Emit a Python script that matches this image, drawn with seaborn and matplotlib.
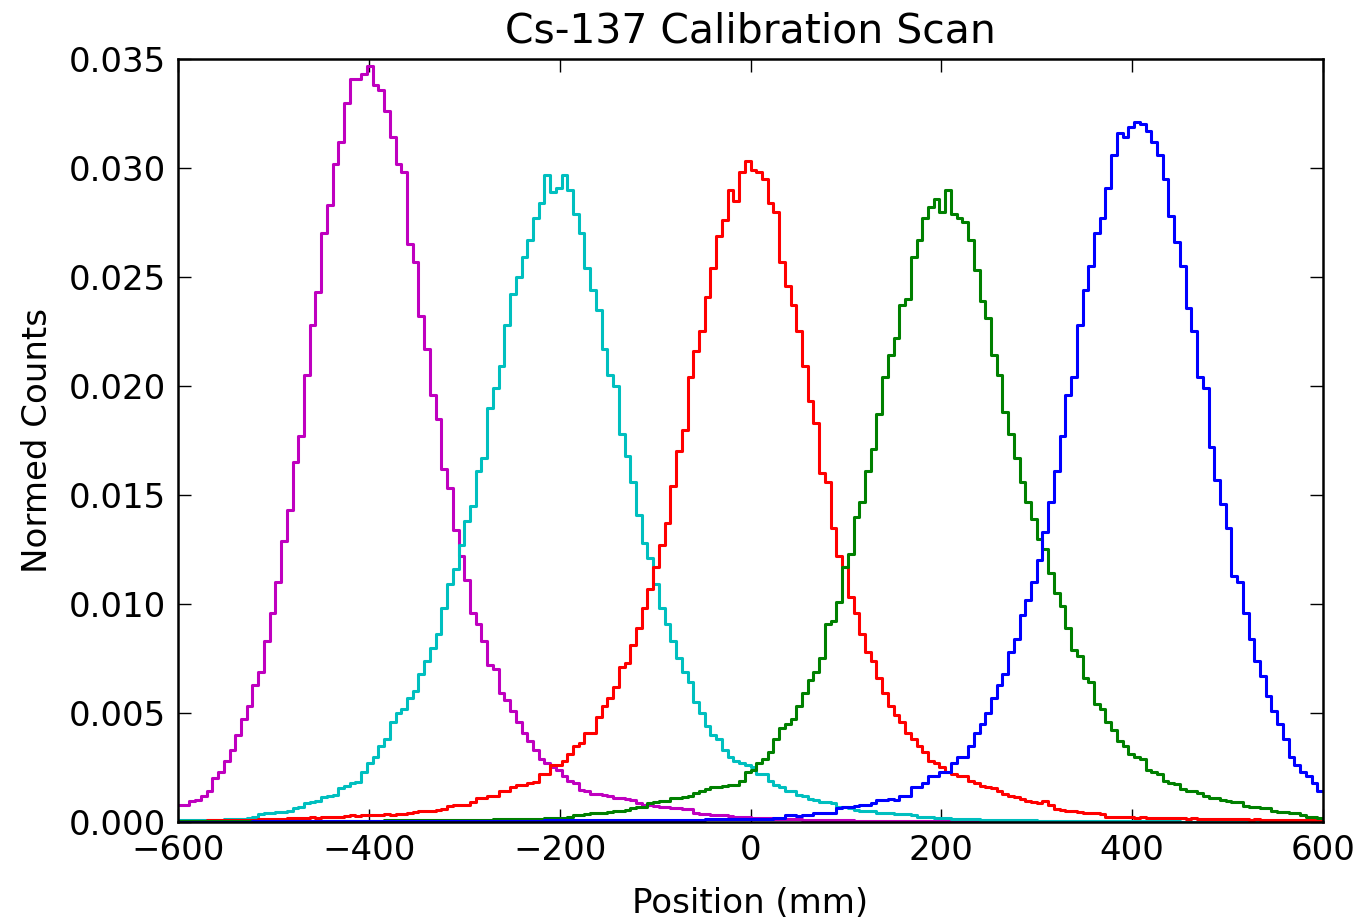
import numpy as np
import pandas as pd
import seaborn as sns
import matplotlib
matplotlib.use("Agg")
import matplotlib.pyplot as plt

# bin centres of the scan histograms (mm), 6 mm bins from -600 to 600
centers = np.arange(-597, 600, 6)

# normed counts per bin, in units of 1e-4
pos_m400 = [7.6, 7.8, 9.5, 10.0, 12.0, 14.0, 20.0, 23.0, 28.0, 33.0,
            40, 47, 53, 63, 69, 83, 96, 110, 129, 143,
            165, 177, 205, 228, 243, 270, 283, 302, 312, 330,
            341, 341, 343, 347, 338, 336, 326, 314, 302, 298,
            265, 257, 232, 217, 196, 185, 162, 153, 134, 122,
            111, 96, 91, 83, 72, 70, 59, 56, 51, 46,
            41, 37, 33, 29, 27, 25, 24, 21, 19, 18,
            14.5, 14, 13, 13, 12.5, 12, 11, 11, 10.5, 10,
            8.5, 8, 8, 7.5, 7, 7, 6.5, 6.5, 6, 6,
            4, 3.5, 3.5, 3, 3, 3, 2.8, 2.5, 2.5, 2.2,
            2, 2, 1.8, 1.8, 1.5, 1.5, 1.5, 1.2, 1.2, 1.0,
            1.0, 0.9, 0.9, 0.8, 0.8, 0.7, 0.7, 0.7, 0.6, 0.6,
            0.6, 0.5, 0.5, 0.5, 0.5, 0.4, 0.4, 0.4, 0.4, 0.4,
            0.4, 0.3, 0.3, 0.3, 0.3, 0.3, 0.3, 0.3, 0.3, 0.3,
            0.3, 0.3, 0.2, 0.2, 0.2, 0.2, 0.2, 0.2, 0.2, 0.2,
            0.2, 0.2, 0.2, 0.2, 0.2, 0.2, 0.2, 0.2, 0.2, 0.2,
            0.1, 0.1, 0.1, 0.1, 0.1, 0.1, 0.1, 0.1, 0.1, 0.1,
            0.1, 0.1, 0.1, 0.1, 0.1, 0.1, 0.1, 0.1, 0.1, 0.1,
            0.1, 0.1, 0.1, 0.1, 0.1, 0.1, 0.1, 0.1, 0.1, 0.1,
            0.1, 0.1, 0.1, 0.1, 0.1, 0.1, 0.1, 0.1, 0.1, 0.1]

pos_m200 = [0.8, 0.8, 0.9, 0.9, 1.0, 1.0, 1.0, 1.1, 1.2, 1.2,
            1.3, 1.5, 2.0, 2.2, 3.8, 4.0, 4.2, 4.4, 4.6, 5.0,
            6.5, 7.0, 8.5, 9.0, 9.5, 11.5, 12, 12.5, 15.5, 16.5,
            18, 18.5, 23, 27, 30, 35, 38, 46, 50, 52,
            57, 60, 68, 74, 80, 86, 98, 109, 116, 127,
            138, 145, 161, 167, 190, 199, 209, 228, 242, 250,
            259, 267, 277, 284, 297, 289, 291, 297, 290, 279,
            270, 254, 244, 235, 217, 205, 200, 178, 168, 156,
            141, 128, 121, 109, 98, 91, 83, 75, 69, 64,
            55, 50, 44, 40, 38, 33, 30, 28, 27, 26,
            25, 22, 22, 19, 17, 16, 14, 14, 12.5, 12,
            10.5, 10, 9, 9, 8.5, 7, 7, 6.5, 5.5, 5,
            5, 4.8, 4.2, 4, 4, 3.8, 3.8, 3.5, 3.2, 2.5,
            2.2, 2.2, 2.0, 2.0, 1.8, 1.5, 1.5, 1.4, 1.3, 1.2,
            1.0, 1.0, 0.9, 0.9, 0.8, 0.8, 0.8, 0.7, 0.7, 0.7,
            0.6, 0.6, 0.6, 0.5, 0.5, 0.5, 0.5, 0.5, 0.4, 0.4,
            0.4, 0.4, 0.4, 0.4, 0.3, 0.3, 0.3, 0.3, 0.3, 0.3,
            0.3, 0.3, 0.3, 0.3, 0.3, 0.2, 0.2, 0.2, 0.2, 0.2,
            0.2, 0.2, 0.2, 0.2, 0.2, 0.2, 0.2, 0.2, 0.2, 0.2,
            0.2, 0.1, 0.1, 0.1, 0.1, 0.1, 0.1, 0.1, 0.1, 0.1]

pos_0 = [0.5, 0.5, 0.6, 0.6, 0.6, 0.7, 0.7, 0.8, 0.8, 0.9,
         0.9, 1.0, 1.0, 1.1, 1.2, 1.2, 1.3, 1.4, 1.5, 1.6,
         1.7, 1.8, 2.0, 2.1, 2.0, 2.3, 2.2, 2.4, 2.5, 2.7,
         3.0, 2.8, 3.1, 3.3, 3.0, 3.4, 3.5, 3.3, 3.6, 3.8,
         4.2, 4.5, 4.8, 5.0, 5.2, 5.5, 6.0, 7.5, 8.0, 7.8,
         8, 9, 11, 11, 12, 12, 14, 14, 16, 17,
         17, 18, 18.5, 22, 22, 26, 26, 28, 31, 35,
         36, 41, 41, 48, 53, 57, 62, 71, 73, 81,
         89, 98, 107, 117, 127, 137, 154, 170, 180, 204,
         216, 225, 241, 254, 269, 276, 290, 285, 298, 303,
         299, 298, 295, 284, 280, 257, 246, 237, 225, 209,
         193, 183, 160, 156, 135, 122, 117, 103, 96, 86,
         78, 74, 66, 59, 53, 49, 46, 41, 38, 35,
         32, 28, 27, 25, 23, 22, 21, 21, 19, 18,
         16.5, 16, 15.5, 14, 13, 12, 11.5, 10.5, 9.5, 9,
         8.5, 9.5, 8, 6, 5.5, 5, 5, 4.5, 4.2, 4.0,
         4.0, 3.5, 2.5, 2.5, 2.4, 2.2, 2.2, 2.0, 2.2, 2.0,
         1.9, 1.8, 1.8, 1.7, 1.6, 1.6, 1.5, 1.6, 1.4, 1.5,
         1.4, 1.3, 1.4, 1.3, 1.2, 1.3, 1.2, 1.1, 1.2, 1.1,
         1.0, 1.1, 1.0, 1.0, 0.9, 1.0, 0.9, 0.8, 0.9, 0.8]

pos_200 = [0.3, 0.3, 0.3, 0.3, 0.3, 0.3, 0.3, 0.3, 0.3, 0.3, 0.3,
           0.4, 0.4, 0.4, 0.4, 0.4, 0.4, 0.4, 0.4, 0.4, 0.4,
           0.5, 0.5, 0.5, 0.5, 0.5, 0.5, 0.5, 0.5, 0.5, 0.5,
           0.6, 0.6, 0.6, 0.6, 0.6, 0.7, 0.7, 0.7, 0.7, 0.7,
           0.8, 0.8, 0.8, 0.8, 0.8, 0.9, 0.9, 0.9, 0.9, 0.9,
           1.0, 1.0, 1.1, 1.1, 1.2, 1.2, 1.2, 1.3, 1.3, 1.5,
           1.5, 1.5, 1.5, 1.6, 1.6, 1.6, 1.7, 2.5, 3.0, 3.0,
           3.5, 4.0, 4.0, 4.2, 4.5, 5.0, 5.0, 5.5, 6.5, 7.0,
           7.0, 8.5, 9.0, 9.5, 9.5, 11, 11, 11.5, 12, 13.5,
           14, 15, 16, 16, 16.5, 17, 17, 19, 23, 24,
           27, 29, 32, 38, 43, 45, 47, 53, 59, 65,
           69, 75, 91, 92, 101, 117, 123, 140, 147, 161,
           171, 187, 204, 214, 222, 237, 240, 259, 267, 277,
           282, 286, 280, 290, 279, 277, 275, 267, 253, 239,
           231, 214, 205, 188, 178, 167, 156, 147, 139, 130,
           125, 114, 105, 99, 89, 79, 76, 66, 64, 54,
           52, 46, 42, 37, 35, 31, 30, 29, 24, 23,
           22, 19, 18, 17.5, 15, 14, 14, 13.5, 12, 11,
           11, 10, 9.5, 9, 9, 7.5, 7, 7, 6.5, 6.5,
           5, 4.5, 4.5, 4, 4, 3, 2.5, 2.5, 2]

pos_400 = [0.2, 0.2, 0.2, 0.2, 0.2, 0.2, 0.2, 0.2, 0.2, 0.2, 0.2,
           0.2, 0.2, 0.3, 0.3, 0.3, 0.3, 0.3, 0.3, 0.3, 0.3,
           0.3, 0.3, 0.3, 0.3, 0.3, 0.3, 0.3, 0.3, 0.3, 0.3,
           0.4, 0.4, 0.4, 0.4, 0.4, 0.4, 0.4, 0.4, 0.4, 0.4,
           0.4, 0.4, 0.4, 0.4, 0.5, 0.5, 0.5, 0.5, 0.5, 0.5,
           0.5, 0.5, 0.5, 0.5, 0.5, 0.6, 0.6, 0.6, 0.6, 0.6,
           0.6, 0.6, 0.6, 0.7, 0.7, 0.7, 0.7, 0.7, 0.7, 0.7,
           0.7, 0.8, 0.8, 0.8, 0.8, 0.8, 0.8, 0.8, 0.9, 0.9,
           0.9, 0.9, 0.9, 1.0, 1.0, 1.0, 1.0, 1.0, 1.1, 1.1,
           1.1, 1.2, 1.2, 1.2, 1.3, 1.3, 1.3, 1.4, 1.4, 1.4,
           1.5, 1.5, 1.5, 1.8, 1.6, 3.0, 3.0, 2.8, 3.2, 3.0,
           4.0, 4.0, 4.2, 4.0, 6.5, 7.0, 7.0, 7.2, 8.0, 8.0,
           8.5, 10, 10, 10.5, 10, 12, 12, 16, 16, 18,
           21, 21, 23, 23, 27, 30, 30, 35, 41, 45,
           50, 57, 63, 68, 78, 84, 95, 102, 110, 120,
           133, 147, 161, 177, 196, 204, 228, 244, 255, 270,
           277, 291, 306, 316, 314, 319, 321, 320, 317, 312,
           306, 295, 278, 266, 255, 236, 225, 204, 199, 172,
           157, 146, 135, 113, 110, 96, 84, 74, 67, 58,
           51, 45, 38, 30, 26, 23, 21, 18, 14]

series = [pos_m400, pos_m200, pos_0, pos_200, pos_400]
colors = [(0.75, 0, 0.75), (0, 0.75, 0.75), (1, 0, 0), (0, 0.5, 0), (0, 0, 1)]

sns.set_style("ticks")
plt.rcParams['font.family'] = ['DejaVu Sans']
plt.rcParams['text.color'] = 'black'
plt.rcParams['axes.labelcolor'] = 'black'
plt.rcParams['xtick.color'] = 'black'
plt.rcParams['ytick.color'] = 'black'

fontsize = 24.5

fig = plt.figure(figsize=(13.6, 9.19), dpi=100)
ax = fig.add_axes([0.1309, 0.1056, 0.8419, 0.8302])

for vals, col in zip(series, colors):
    df = pd.DataFrame({"pos": centers, "w": np.array(vals) * 1e-4})
    sns.histplot(data=df, x="pos", weights="w", binwidth=6, binrange=(-600, 600),
                 element="step", fill=False, color=col, linewidth=2.2, ax=ax)

ax.set_xlim(-600, 600)
ax.set_ylim(0, 0.035)
ax.set_xticks(np.arange(-600, 601, 200))
yt = np.arange(0, 0.0351, 0.005)
ax.set_yticks(yt)
ax.set_yticklabels(["%.3f" % v for v in yt])
ax.tick_params(which='both', direction='in', length=9.5, width=1.0,
               labelsize=fontsize, pad=9, top=True, right=True,
               colors='black')
for s in ax.spines.values():
    s.set_linewidth(1.8)
    s.set_color('black')

ax.set_title("Cs-137 Calibration Scan", fontsize=fontsize * 1.2, pad=12, color='black')
ax.set_xlabel("Position (mm)", fontsize=fontsize, labelpad=14)
ax.set_ylabel("Normed Counts", fontsize=fontsize, labelpad=10)

fig.savefig("out.png", dpi=100)
